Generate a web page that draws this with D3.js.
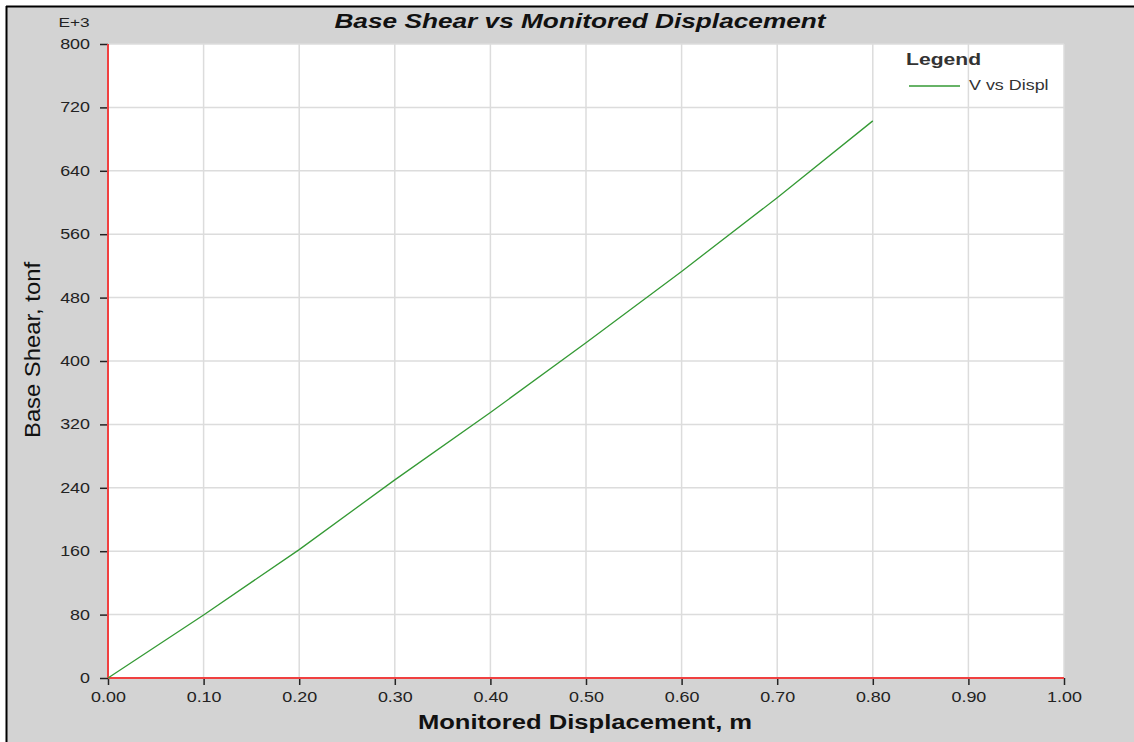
<!DOCTYPE html>
<html>
<head>
<meta charset="utf-8">
<script src="https://cdn.jsdelivr.net/npm/d3@7"></script>
<style>
  html, body { margin: 0; padding: 0; background: #fff; }
  svg { display: block; font-family: "Liberation Sans", Arial, sans-serif; }
</style>
</head>
<body>
<svg id="chart" width="1134" height="742"></svg>
<script>
// displacement (m) vs base shear (tonf, E+3)
const displ = [0.0, 0.1, 0.2, 0.3, 0.4, 0.5, 0.6, 0.7, 0.8];
const shear = [0, 79.5, 162, 250, 335, 423, 513, 606, 703];
const xTicks = [0, 0.1, 0.2, 0.3, 0.4, 0.5, 0.6, 0.7, 0.8, 0.9, 1.0];
const yTicks = [0, 80, 160, 240, 320, 400, 480, 560, 640, 720, 800];

const svg = d3.select("#chart");
const W = +svg.attr("width"), H = +svg.attr("height");
const m = { left: 108, top: 44, right: 1064, bottom: 678 };
const sx = 1.28; // the source picture is stretched sideways

// frame
svg.append("rect").attr("x", 0).attr("y", 0).attr("width", W).attr("height", H).attr("fill", "#fff");
svg.append("rect").attr("x", 6).attr("y", 6).attr("width", W - 6).attr("height", H - 6).attr("fill", "#d3d3d3");
svg.append("line").attr("x1", 6).attr("x2", W).attr("y1", 6.5).attr("y2", 6.5).attr("stroke", "#000").attr("stroke-width", 2);
svg.append("line").attr("x1", 6.5).attr("x2", 6.5).attr("y1", 6).attr("y2", H).attr("stroke", "#000").attr("stroke-width", 2);

const x = d3.scaleLinear().domain([0, 1]).range([m.left, m.right]);
const y = d3.scaleLinear().domain([0, 800]).range([m.bottom, m.top]);

svg.append("rect").attr("x", m.left).attr("y", m.top)
  .attr("width", m.right - m.left).attr("height", m.bottom - m.top).attr("fill", "#fff");

// grid
svg.append("g").selectAll("line").data(xTicks.slice(1)).join("line")
  .attr("x1", d => x(d)).attr("x2", d => x(d)).attr("y1", m.top).attr("y2", m.bottom)
  .attr("stroke", "#dcdcdc").attr("stroke-width", 1.5);
svg.append("g").selectAll("line").data(yTicks.slice(1)).join("line")
  .attr("x1", m.left).attr("x2", m.right).attr("y1", d => y(d)).attr("y2", d => y(d))
  .attr("stroke", "#dcdcdc").attr("stroke-width", 1.5);

// axes
const xAxis = svg.append("g").attr("transform", `translate(0,${m.bottom})`)
  .call(d3.axisBottom(x).tickValues(xTicks).tickFormat(d3.format(".2f")).tickSize(7).tickPadding(7));
const yAxis = svg.append("g").attr("transform", `translate(${m.left},0)`)
  .call(d3.axisLeft(y).tickValues(yTicks).tickSize(8));
[xAxis, yAxis].forEach(a => {
  a.attr("font-family", null).attr("font-size", null);
  a.select(".domain").remove();
  a.selectAll(".tick line").attr("stroke", "#222").attr("stroke-width", 1.5);
  a.selectAll(".tick text").attr("fill", "#222").style("font-size", "14px");
});
xAxis.selectAll(".tick text").attr("transform", `scale(${sx},1)`);
yAxis.selectAll(".tick text").attr("x", -18 / sx).attr("transform", `scale(${sx},1)`);

svg.append("line").attr("x1", m.left).attr("x2", m.right).attr("y1", m.bottom).attr("y2", m.bottom)
  .attr("stroke", "#f04040").attr("stroke-width", 2);
svg.append("line").attr("x1", m.left).attr("x2", m.left).attr("y1", m.top).attr("y2", m.bottom)
  .attr("stroke", "#f04040").attr("stroke-width", 2);

// series
svg.append("path").datum(displ.map((d, i) => [d, shear[i]]))
  .attr("fill", "none").attr("stroke", "#359a35").attr("stroke-width", 1.3)
  .attr("d", d3.line().x(d => x(d[0])).y(d => y(d[1])));

// stretched text helper
function stext(cx, cy, str, size, opts = {}) {
  const g = svg.append("g").attr("transform", `translate(${cx},${cy}) scale(${sx},1)`);
  return g.append("text").attr("text-anchor", opts.anchor || "middle")
    .attr("font-size", size).attr("font-weight", opts.weight || "normal")
    .attr("font-style", opts.style || "normal").attr("fill", opts.fill || "#111").text(str);
}

stext(580, 28, "Base Shear vs Monitored Displacement", 20.5, { weight: "bold", style: "italic" });
stext(74, 27, "E+3", 13.5, { fill: "#222" });
stext(585, 729, "Monitored Displacement, m", 20, { weight: "bold" });
svg.append("text").attr("transform", "translate(40,350) rotate(-90)").attr("text-anchor", "middle")
  .attr("font-size", 22).attr("fill", "#111").attr("textLength", 176).attr("lengthAdjust", "spacingAndGlyphs")
  .text("Base Shear, tonf");

// legend
stext(906, 65, "Legend", 16.5, { anchor: "start", weight: "bold", fill: "#333" });
svg.append("line").attr("x1", 909).attr("x2", 960).attr("y1", 86).attr("y2", 86)
  .attr("stroke", "#359a35").attr("stroke-width", 1.5);
stext(969, 90, "V vs Displ", 14, { anchor: "start", fill: "#333" });
</script>
</body>
</html>
